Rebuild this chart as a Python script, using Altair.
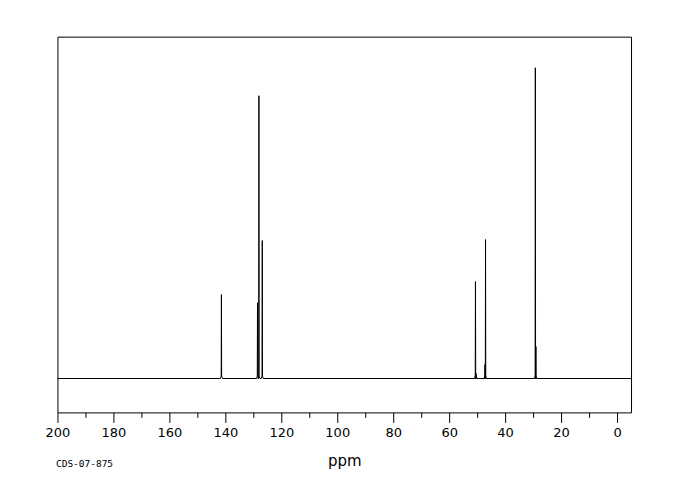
import altair as alt
import pandas as pd

# Peak list (ppm, relative intensity, tallest = 100)
peak_ppm = [141.4, 128.5, 128.0, 126.8, 50.6, 50.4, 47.2, 47.0, 29.2, 29.0]
peak_int = [27.0, 24.4, 91.0, 44.4, 31.2, 1.6, 4.5, 44.7, 100.0, 10.3]

x_start, x_end = 200, -5
tick_values = list(range(0, 201, 10))

# Build a stick-spectrum polyline from the peak list
pts = [(x_start, 0.0)]
for p, h in sorted(zip(peak_ppm, peak_int), key=lambda t: -t[0]):
    pts += [(p + 0.35, 0.0), (p + 0.08, 0.8), (p, h), (p - 0.08, 0.8), (p - 0.35, 0.0)]
pts.append((x_end, 0.0))
df = pd.DataFrame(pts, columns=["ppm", "intensity"])
df["order"] = range(len(df))

x_scale = alt.Scale(domain=[x_start, x_end], nice=False, zero=False)
y_scale = alt.Scale(domain=[-10.9, 110], nice=False, zero=False)

line = alt.Chart(df).mark_line(color="black", strokeWidth=1, interpolate="linear").encode(
    x=alt.X("ppm:Q", scale=x_scale, title="ppm",
            axis=alt.Axis(values=tick_values,
                          labelExpr="datum.value % 20 === 0 ? datum.label : ''",
                          labelFlush=False,
                          grid=False, domain=False, tickColor="black", tickWidth=1,
                          tickSize={"condition": {"test": "datum.value % 20 === 0", "value": 10}, "value": 5},
                          labelPadding=4, labelFont="DejaVu Sans",
                          labelFontSize=13, labelColor="black",
                          titleFont="DejaVu Sans", titleFontSize=15,
                          titleFontWeight="normal", titleColor="black", titlePadding=14)),
    y=alt.Y("intensity:Q", scale=y_scale, axis=None),
    order="order:Q",
)

label = alt.Chart(pd.DataFrame({"t": ["CDS-07-875"]})).mark_text(
    font="DejaVu Sans Mono", fontSize=9.5, align="left", baseline="middle", color="black"
).encode(text="t:N", x=alt.value(-1.5), y=alt.value(427.5))

chart = alt.layer(line, label).properties(
    width=574, height=376,
    background="white",
    autosize=alt.AutoSizeParams(type="none"),
    padding={"left": 49.5, "top": 28.5, "right": 41, "bottom": 80},
).configure_view(stroke="black", strokeWidth=1, strokeOpacity=1)

chart.save("out.html", embed_options={"renderer": "svg", "actions": False})
